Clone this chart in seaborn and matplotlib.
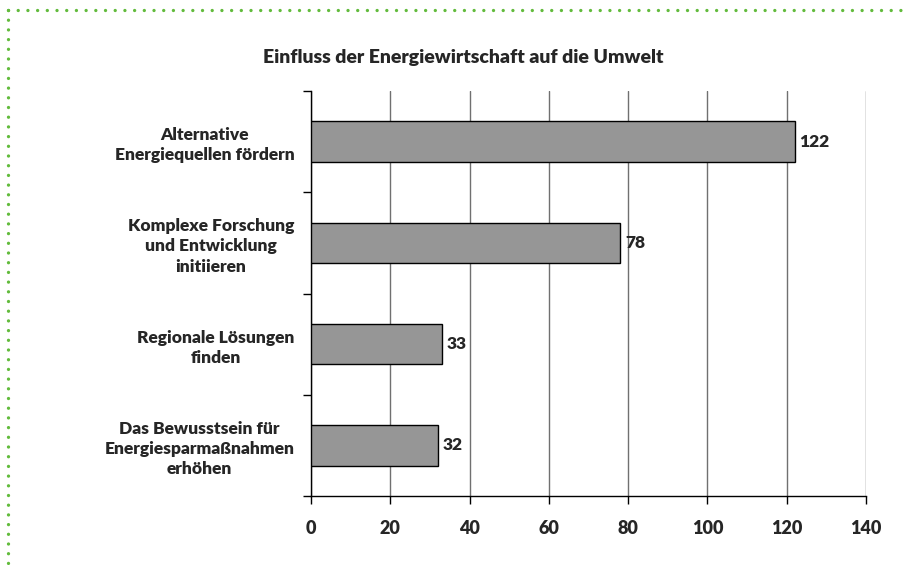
import matplotlib
matplotlib.use("Agg")
import matplotlib.pyplot as plt
from matplotlib.lines import Line2D
from matplotlib.ticker import FixedLocator
import seaborn as sns

# Daten
kategorien = [
    "Alternative\nEnergiequellen fördern",
    "Komplexe Forschung\nund Entwicklung\ninitiieren",
    "Regionale Lösungen\nfinden",
    "Das Bewusstsein für\nEnergiesparmaßnahmen\nerhöhen",
]
werte = [122, 78, 33, 32]
x_ticks = [0, 20, 40, 60, 80, 100, 120, 140]
titel = "Einfluss der Energiewirtschaft auf die Umwelt"

sns.set_style("white")
plt.rcParams["font.family"] = ["Lato", "DejaVu Sans"]
gewicht = "heavy"

fig = plt.figure(figsize=(9.08, 5.65), dpi=100)
ax = fig.add_axes([0.3425, 0.1221, 0.6112, 0.7168])

sns.barplot(x=werte, y=kategorien, orient="h", color="#969696", saturation=1,
            edgecolor="black", linewidth=1.0, width=0.4, ax=ax, zorder=3)

ax.set_xlim(0, 140)
ax.set_ylim(3.5, -0.5)
ax.set_xticks(x_ticks)
ax.set_xticklabels([str(t) for t in x_ticks], fontsize=13, fontweight=gewicht)
ax.xaxis.grid(True, color="#707070", linewidth=1.0, zorder=0)
ax.yaxis.grid(False)

# Kategorien ohne Striche, Trennstriche dazwischen
ax.tick_params(axis="y", which="major", length=0, pad=12)
ax.yaxis.set_minor_locator(FixedLocator([-0.5, 0.5, 1.5, 2.5, 3.5]))
ax.tick_params(axis="y", which="minor", length=6, width=1, color="black", direction="out", left=True)
ax.tick_params(axis="x", which="major", length=6, width=1, color="black", direction="out",
               bottom=True, pad=11.5)
for lbl in ax.get_yticklabels():
    lbl.set_fontsize(12.5)
    lbl.set_fontweight(gewicht)
    lbl.set_multialignment("center")
    lbl.set_linespacing(1.32)

for s in ["top", "right"]:
    ax.spines[s].set_visible(False)
ax.spines["left"].set_color("black")
ax.spines["bottom"].set_color("black")
ax.spines["left"].set_linewidth(1)
ax.spines["bottom"].set_linewidth(1)
ax.set_xlabel("")
ax.set_ylabel("")

for i, v in enumerate(werte):
    ax.text(v + 1.2, i, str(v), va="center", ha="left", fontsize=12.5, fontweight=gewicht)

fig.text(0.51, 0.899, titel, ha="center", va="center", fontsize=14, fontweight=gewicht)

# gepunkteter Rahmen
gruen = "#62bb3c"
for xs, ys in [([0.009, 1.0], [0.982, 0.982]), ([0.009, 0.009], [0.982, 0.0])]:
    fig.add_artist(Line2D(xs, ys, transform=fig.transFigure, color=gruen, linewidth=2.4,
                          dashes=(0.01, 2.9), dash_capstyle="round"))

fig.savefig("out.png", dpi=100)
